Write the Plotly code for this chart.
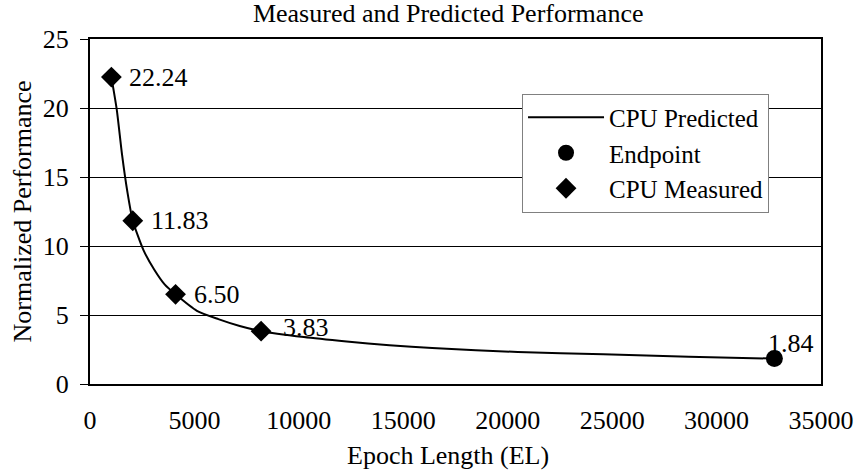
import plotly.graph_objects as go

# predicted curve
pred_el = [1024, 1280, 1536, 1792, 2048, 2560, 3072, 3584, 4096, 5120, 6144,
           7168, 8192, 10240, 12288, 14336, 16384, 20480, 24576, 28672, 32768]
pred_perf = [22.24, 19.9, 16.6, 13.9, 11.83, 9.7, 8.3, 7.2, 6.50, 5.3, 4.7,
             4.2, 3.83, 3.4, 3.08, 2.8, 2.6, 2.32, 2.15, 1.98, 1.84]

# measured points
meas_el = [1024, 2048, 4096, 8192]
meas_perf = [22.24, 11.83, 6.50, 3.83]

# endpoint
end_el = [32768]
end_perf = [1.84]

FONT = "Liberation Serif, Times New Roman, serif"
FS = 26

fig = go.Figure()

fig.add_trace(go.Scatter(
    x=pred_el, y=pred_perf, mode="lines", name="CPU Predicted",
    line=dict(color="black", width=2, shape="spline", smoothing=0.6),
))
fig.add_trace(go.Scatter(
    x=end_el, y=end_perf, mode="markers", name="Endpoint",
    marker=dict(symbol="circle", size=17, color="black"),
))
fig.add_trace(go.Scatter(
    x=meas_el, y=meas_perf, mode="markers", name="CPU Measured",
    marker=dict(symbol="diamond", size=16, color="black"),
))

# data labels
for xv, yv in zip(meas_el, meas_perf):
    shift = 20 if xv == 8192 else 16
    fig.add_annotation(x=xv, y=yv, text=f"{yv:.2f}", showarrow=False,
                       xanchor="left", yanchor="middle", xshift=shift,
                       yshift=4 if xv == 8192 else 0,
                       font=dict(family=FONT, size=FS, color="black"))
fig.add_annotation(x=end_el[0], y=end_perf[0], text=f"{end_perf[0]:.2f}",
                   showarrow=False, xanchor="left", yanchor="middle",
                   xshift=-8, yshift=15,
                   font=dict(family=FONT, size=FS, color="black"))

# axis titles
fig.add_annotation(text="Epoch Length (EL)", xref="paper", yref="paper",
                   x=0.49, y=-(456 - 384) / 345, xanchor="center",
                   yanchor="middle", showarrow=False,
                   font=dict(family=FONT, size=FS, color="black"))
fig.add_annotation(text="Normalized Performance", xref="paper", yref="paper",
                   x=-(90 - 22) / 731, y=0.5, xanchor="center",
                   yanchor="middle", textangle=-90, showarrow=False,
                   font=dict(family=FONT, size=FS, color="black"))

fig.update_layout(
    width=857, height=472,
    margin=dict(l=90, r=36, t=39, b=88, autoexpand=False),
    paper_bgcolor="white", plot_bgcolor="white",
    font=dict(family=FONT, size=FS, color="black"),
    title=dict(text="Measured and Predicted Performance", x=0.49, xref="paper",
               xanchor="center", y=1 - 13 / 472, yanchor="middle",
               font=dict(family=FONT, size=FS, color="black")),
    legend=dict(x=0.591, y=0.842, xanchor="left", yanchor="top",
                bgcolor="white", bordercolor="#808080", borderwidth=1,
                font=dict(family=FONT, size=25), tracegroupgap=0,
                itemwidth=76),
    showlegend=True,
)

fig.update_xaxes(range=[0, 35000], dtick=5000, tickformat="d",
                 showgrid=False, zeroline=False, automargin=False,
                 showline=True, linecolor="black", linewidth=2, mirror=True,
                 ticks="", ticklabelstandoff=12)
fig.update_yaxes(range=[0, 25], dtick=5, showgrid=True, gridcolor="black",
                 gridwidth=1, zeroline=False, showline=True, linecolor="black",
                 linewidth=2, mirror=True, ticks="outside", ticklen=8,
                 tickcolor="black", ticklabelstandoff=6, automargin=False)

# page body has an 8px default margin; drop it so the figure fills the window
fig.write_html("out.html", config={"displayModeBar": False},
               post_script="document.body.style.margin='0';")
